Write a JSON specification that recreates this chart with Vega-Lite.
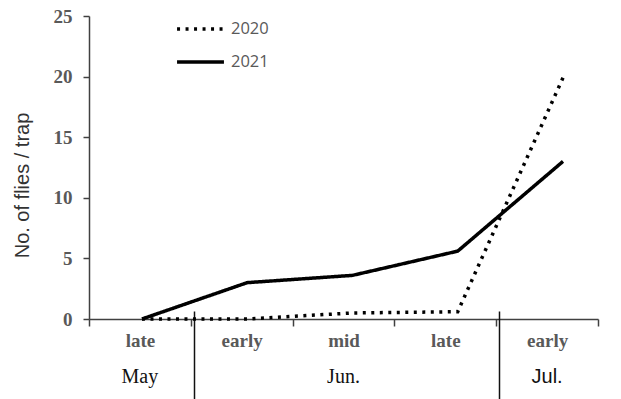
{
  "$schema": "https://vega.github.io/schema/vega-lite/v6.json",
  "width": 509,
  "height": 303,
  "autosize": "none",
  "padding": {"left": 89, "top": 16, "right": 23, "bottom": 80},
  "config": {"view": {"stroke": null}, "axis": {"grid": false}},
  "data": {"values": [
    {"period": "late May", "year": "2020", "flies": 0},
    {"period": "early Jun.", "year": "2020", "flies": 0},
    {"period": "mid Jun.", "year": "2020", "flies": 0.5},
    {"period": "late Jun.", "year": "2020", "flies": 0.6},
    {"period": "early Jul.", "year": "2020", "flies": 19.9},
    {"period": "late May", "year": "2021", "flies": 0},
    {"period": "early Jun.", "year": "2021", "flies": 3.0},
    {"period": "mid Jun.", "year": "2021", "flies": 3.6},
    {"period": "late Jun.", "year": "2021", "flies": 5.6},
    {"period": "early Jul.", "year": "2021", "flies": 13.0}
  ]},
  "layer": [
    {
      "mark": {"type": "line", "strokeWidth": 3.5, "color": "black"},
      "encoding": {
        "x": {"field": "period", "type": "ordinal",
              "sort": ["late May", "early Jun.", "mid Jun.", "late Jun.", "early Jul."],
              "scale": {"type": "point", "padding": 0.418, "align": 0.602},
              "axis": null},
        "y": {"field": "flies", "type": "quantitative",
              "scale": {"domain": [0, 25], "nice": false},
              "axis": {"values": [0, 5, 10, 15, 20, 25], "title": "No. of flies / trap",
                       "labelFont": "Liberation Serif", "labelFontWeight": "bold", "labelFontSize": 19,
                       "labelColor": "#595959", "labelPadding": 11, "tickSize": 6, "tickColor": "#404040",
                       "tickWidth": 1.5, "domainColor": "#404040", "domainWidth": 1.5,
                       "titleFont": "Liberation Sans", "titleFontSize": 20, "titleFontWeight": "normal",
                       "titleColor": "#333333", "titleX": -67, "titleY": 169, "titleBaseline": "middle",
                       "titleAlign": "center", "titleAngle": -90}},
        "strokeDash": {"field": "year", "type": "nominal",
                       "scale": {"domain": ["2020", "2021"], "range": [[3, 5.5], [1, 0]]},
                       "legend": {"orient": "none", "legendX": 86, "legendY": 3, "title": null,
                                  "symbolType": "stroke", "symbolSize": 2200, "symbolStrokeWidth": 3.5,
                                  "symbolStrokeColor": "black", "labelFont": "Open Sans", "labelFontSize": 16.5,
                                  "labelColor": "#595959", "clipHeight": 20, "rowPadding": 13,
                                  "labelOffset": 5, "padding": 0}}
      }
    },
    {
      "mark": {"type": "point", "opacity": 0},
      "encoding": {
        "x": {"field": "period", "type": "ordinal",
              "sort": ["late May", "early Jun.", "mid Jun.", "late Jun.", "early Jul."],
              "scale": {"type": "band", "paddingInner": 0, "paddingOuter": 0},
              "axis": {"orient": "bottom", "title": null, "tickBand": "extent", "labelAngle": 0,
                       "labelExpr": "split(datum.label, ' ')[0]",
                       "labelFont": "Liberation Serif", "labelFontWeight": "bold", "labelFontSize": 19,
                       "labelColor": "#595959", "labelPadding": 5, "tickSize": 7, "tickColor": "#404040",
                       "tickWidth": 1.5, "domainColor": "#404040", "domainWidth": 1.5}}
      }
    },
    {
      "mark": {"type": "point", "opacity": 0},
      "encoding": {
        "x": {"field": "period", "type": "ordinal",
              "sort": ["late May", "early Jun.", "mid Jun.", "late Jun.", "early Jul."],
              "scale": {"type": "band", "paddingInner": 0, "paddingOuter": 0},
              "axis": {"orient": "bottom", "title": null, "values": ["late May", "mid Jun.", "early Jul."],
                       "labelAngle": 0, "labelExpr": "split(datum.label, ' ')[1]",
                       "labelFont": {"condition": {"test": "datum.label == 'early Jul.'", "value": "Liberation Sans"}, "value": "Liberation Serif"},
                       "labelFontSize": 20, "labelColor": "#111111",
                       "ticks": false, "domain": false, "offset": 43, "labelPadding": 4}}
      }
    },
    {
      "mark": {"type": "point", "opacity": 0},
      "encoding": {
        "x": {"field": "period", "type": "ordinal",
              "sort": ["late May", "early Jun.", "mid Jun.", "late Jun.", "early Jul."],
              "scale": {"type": "band", "paddingInner": 0, "paddingOuter": 0},
              "axis": {"orient": "bottom", "title": null, "values": ["late May", "late Jun."],
                       "bandPosition": 1, "labels": false, "domain": false, "ticks": true,
                       "tickSize": 92, "tickWidth": 1.5, "tickColor": "#111111", "tickOffset": 3,
                       "offset": -8}}
      }
    }
  ],
  "resolve": {"scale": {"x": "independent"}, "axis": {"x": "independent"}}
}
